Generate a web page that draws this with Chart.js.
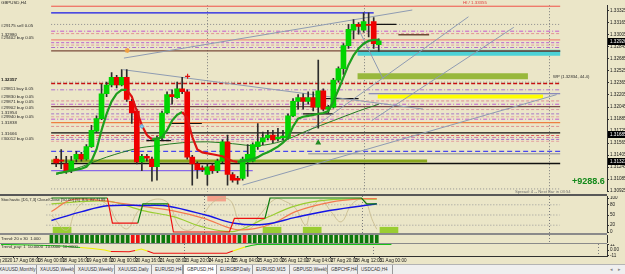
<!DOCTYPE html>
<html>
<head>
<meta charset="utf-8">
<title>GBPUSD,H4</title>
<script src="https://cdn.jsdelivr.net/npm/chart.js@4.4.1/dist/chart.umd.min.js"></script>
<style>
  html, body { margin: 0; padding: 0; }
  body { width: 625px; height: 274px; overflow: hidden; position: relative; background: #ebe6c8; font-family: "Liberation Sans", Arial, sans-serif; }
  canvas { position: absolute; left: 0; }
  .sep { position: absolute; left: 0; width: 607px; }
  #tabs { position: absolute; left: 0; top: 264px; width: 625px; height: 10px; background: #efefef; border-top: 1px solid #b4b4b4; }
  .tab { position: absolute; top: 0; height: 9px; line-height: 9px; font-size: 4.6px; color: #333; border-right: 1px solid #9a9a9a; padding-left: 3px; box-sizing: border-box; white-space: nowrap; overflow: hidden; }
  .tab.on { background: #fff; border-left: 1px solid #9a9a9a; }
  .arr { position: absolute; top: 1px; font-size: 5px; color: #888; }
</style>
</head>
<body>
<canvas id="main" width="625" height="197" style="top:0"></canvas>
<div class="sep" style="top:194px;height:2px;background:#585858"></div>
<canvas id="osc" width="625" height="37" style="top:196px"></canvas>
<div class="sep" style="top:233px;height:2px;background:#8a8a8a"></div>
<canvas id="hist" width="625" height="8" style="top:235px"></canvas>
<div class="sep" style="top:243px;height:1px;background:#8a8a8a"></div>
<canvas id="pay" width="625" height="21" style="top:244px"></canvas>
<div id="tabs"></div>
<script>
// GBPUSD H4, 17 Aug - 31 Aug 2020, bar index 0 = Mon 17 Aug 00:00
const candleOpen  = [1.31352,1.31339,1.31288,1.31198,1.31352,1.31416,1.31352,1.31518,1.31723,1.3189,
                     1.32222,1.32338,1.3244,1.32338,1.3244,1.3212,1.31992,1.31314,1.3139,1.31352,
                     1.3125,1.31634,1.31966,1.3221,1.32171,1.32286,1.32248,1.31378,1.31288,1.31237,
                     1.31147,1.31262,1.31198,1.31326,1.31582,1.31147,1.31096,1.31096,1.31314,1.31326,
                     1.31518,1.31582,1.31634,1.31672,1.31621,1.31634,1.31634,1.31928,1.3212,1.32171,
                     1.3212,1.32171,1.32043,1.32261,1.32018,1.32043,1.32402,1.32555,1.32862,1.33067,
                     1.33144,1.33067,1.33144,1.33182,1.32875];
const candleHigh  = [1.3139,1.3148,1.3139,1.3139,1.31454,1.31442,1.31544,1.318,1.31928,1.3235,
                     1.32376,1.32504,1.32466,1.32542,1.32542,1.32146,1.32018,1.31416,1.31416,1.31378,
                     1.31659,1.31992,1.32248,1.32274,1.32376,1.3244,1.32274,1.31403,1.31314,1.31262,
                     1.31288,1.31288,1.31352,1.31608,1.31672,1.31173,1.31122,1.31378,1.31544,1.3157,
                     1.31826,1.3171,1.31736,1.31736,1.31762,1.31736,1.31954,1.32158,1.3221,1.32222,
                     1.32248,1.32248,1.3267,1.32286,1.32069,1.32427,1.32581,1.32888,1.33144,1.33208,
                     1.3317,1.33298,1.33298,1.33234,1.32952];
const candleLow   = [1.3125,1.31224,1.3116,1.31173,1.31314,1.31326,1.31339,1.31506,1.3171,1.31877,
                     1.32184,1.32312,1.32299,1.32325,1.3212,1.31826,1.31288,1.31198,1.31326,1.31058,
                     1.3107,1.31608,1.31954,1.32082,1.32158,1.32222,1.31352,1.31006,1.31096,1.31186,
                     1.31006,1.3116,1.31173,1.31301,1.31006,1.31045,1.31019,1.3107,1.31122,1.31314,
                     1.3148,1.31544,1.31608,1.3157,1.31595,1.31608,1.31621,1.31915,1.32018,1.32018,
                     1.32082,1.31992,1.31762,1.31992,1.31966,1.3203,1.32376,1.32478,1.32824,1.32952,
                     1.33016,1.33042,1.32978,1.32824,1.32786];
const candleClose = [1.31301,1.31326,1.31198,1.31326,1.31416,1.31352,1.31518,1.31736,1.3189,1.32222,
                     1.32338,1.3244,1.32338,1.3244,1.32146,1.31966,1.31314,1.3139,1.31365,1.3125,
                     1.31634,1.31966,1.3221,1.32184,1.32286,1.32248,1.31378,1.31288,1.31211,1.31211,
                     1.3125,1.31198,1.31326,1.31582,1.31147,1.3107,1.3107,1.31352,1.31416,1.31544,
                     1.31582,1.31634,1.31672,1.31608,1.31646,1.31659,1.31928,1.3212,1.32171,1.3212,
                     1.32171,1.32043,1.32261,1.32018,1.32043,1.32402,1.32555,1.32862,1.3308,1.33144,
                     1.33118,1.33182,1.33131,1.32888,1.32926];

// fast moving average (green rising / red falling)
const maFast = [1.3116,1.31173,1.31186,1.31198,1.31211,1.31224,1.3125,1.31326,1.3148,1.31736,
                1.31954,1.3212,1.32222,1.32274,1.32274,1.32184,1.31992,1.318,1.31672,1.31614,
                1.31621,1.31646,1.31736,1.31864,1.31941,1.31979,1.31902,1.31646,1.3148,1.31442,
                1.31429,1.31416,1.31403,1.3139,1.31352,1.31326,1.31314,1.31326,1.31339,1.31352,
                1.31378,1.31416,1.31442,1.3148,1.31518,1.3157,1.31634,1.31787,1.3189,1.31915,
                1.31928,1.31941,1.31954,1.31966,1.31992,1.3212,1.32274,1.3244,1.32606,1.32734,
                1.32824,1.32888,1.32926,1.32939,1.32939];
// slow moving average, read at a few bars
const maSlowIdx = [0,5,10,16,20,25,30,35,40,45,50,55,60,64];
const maSlow    = [1.31147,1.3125,1.31378,1.31493,1.31531,1.3157,1.31582,1.31557,1.31531,1.31595,1.31736,1.31864,1.31992,1.32082];

// horizontal objects: price, first bar, last bar
const levelPrice = [1.33387,1.33298,1.33144,1.33054,1.33022,1.32939,1.32901,1.32869,1.32837,1.32792,
                    1.32376,1.32357,1.32274,1.32222,1.32126,1.32082,1.3205,1.32011,1.31954,1.31915,
                    1.31883,1.31838,1.31787,1.317,1.31666,1.3164,1.31614,1.31589,1.31454,1.31422,
                    1.31326,1.31294,1.31198,1.30955,1.32786];
const levelFrom  = [-1,-1,-1,-1,-1,-1,-1,-1,-1,-1,-1,-1,-1,62,-1,-1,-1,-1,-1,-1,
                    -1,-1,-1,-1,-1,-1,-1,-1,-1,50,-1,-1,-1,-1,59.8];
const levelTo    = [100,63,100,100,100,100,100,100,100,100,100,100,100,100,100,100,100,100,100,100,
                    100,100,100,100,100,100,100,100,100,100,73.6,100,39,100,100];
const levelLook  = [['#ef7b6b',1.5,[]],['#1818e8',1.2,[]],['#8c8c8c',1,[1,2]],['#c45ad0',1,[4,2,1,2]],['#e39494',1,[3,2]],
                    ['#f08a7a',1.2,[]],['#c060d0',1,[3,2]],['#e2a0a0',1,[3,2]],['#b070c8',1,[4,2,1,2]],['#7a4a3a',1.2,[]],
                    ['#8c8c8c',1,[1,2]],['#c81010',1.5,[4,2]],['#b070d0',1,[4,2,1,2]],['#7070b8',1,[]],['#e08898',1,[3,2]],
                    ['#c060d0',1,[4,2,1,2]],['#7a4848',1.2,[]],['#d898a8',1,[3,2]],['#a878c8',1,[3,2]],['#e2a2a2',1,[3,2]],
                    ['#c060d0',1,[4,2,1,2]],['#ee8040',1.3,[]],['#e09090',1,[3,2]],['#101010',1.3,[]],['#e06060',1,[3,2]],
                    ['#d080a8',1,[4,2,1,2]],['#a070d0',1,[3,2]],['#e2a0a0',1,[3,2]],['#4848f0',1.2,[5,3]],['#a8a8a8',1.5,[]],
                    ['#8aa81e',3,[]],['#101010',1.5,[]],['#8868e8',1.2,[]],['#909090',1,[1,2]],['#2e6e70',1.2,[]]];

// zones
const bandPrice = [1.32766,1.32453,1.32184];
const bandFrom  = [59.8,59.8,63.8];
const bandTo    = [100,93.6,96.6];
const bandLook  = [['#4cd2d6',6],['#98b83c',6],['#ffff00',4]];

// short segments
const segPrice = [1.32158,1.31954,1.33144,1.33007,1.31826,1.31599];
const segFrom  = [47.9,49,63,67.9,22.8,17.9];
const segTo    = [60,55,67.5,74,28.9,22.8];

// trend lines
const trendFromIdx = [13.44,13.28,49,62.6,37,60];
const trendFromPx  = [1.32696,1.32542,1.31672,1.31864,1.31006,1.3308];
const trendToIdx   = [70.66,72.79,81.8,90.8,99.3,64.9];
const trendToPx    = [1.33336,1.32018,1.33246,1.33106,1.3221,1.32414];

// arrows / signs
const markIdx   = [26.07,14.1,52,17];
const markPrice = [1.32453,1.32798,1.3157,1.31787];

const priceTicks = [1.33325,1.33165,1.33005,1.32845,1.32685,1.32525,1.32365,1.32205,1.32045,1.31885,1.31725,1.31565,1.31405,1.31245,1.31085,1.30925];
const axisMarks = [1.32926,1.31685,1.31323];
const separatorIdx = [30,61,97.87];

// oscillator window (0..100)
const oscBlueIdx = [0,6,11,18,23,30.5,36,42,48,55,64];
const oscBlue    = [34,60,77,78,76,49,26,23,43,64,83];
const oscOrangeIdx = [0,4,10,18,24,30,36,40,44,48,55,61,64];
const oscOrange    = [60,95,92,75,62,40,8,10,28,60,88,98,98];
const oscLimeIdx = [0,11,18,24,30,36,42,48,55,64];
const oscLime    = [83,91,63,45,14,2,40,77,95,97];
const oscTanIdx = [0,3,5,8,11,13,15,17,20,23,25,27,29,32,35,37,39,41,44,46,48,50,51,53,55,57,59,61,62,63,64];
const oscTan    = [50,5,70,95,80,30,10,60,95,85,20,5,30,90,95,30,10,50,97,90,70,20,60,95,60,30,80,98,85,40,8];
const stepGreenIdx = [0,11,11.5,17,18,23,23.5,42,43,61,62,64];
const stepGreen    = [100,100,null,26,83,83,null,40,100,100,83,83];
const stepRedIdx = [11,12,17,17.5,23,24,35,36,42];
const stepRed    = [100,26,26,null,83,0,0,40,40];
const oscLevels = [80,50,20];
const buyBoxIdx = [2.1,43.4,51.3,66.4];
const sellBoxIdx = [32.5];

// trend histogram: +1 up / -1 down per bar
const trendSignal = [1,1,1,1,1,1,1,1,1,1,1,1,1,1,1,1,-1,-1,1,1,1,1,1,1,-1,-1,-1,-1,-1,-1,-1,-1,-1,-1,-1,-1,-1,1,-1,
                     1,1,1,1,1,1,1,1,1,1,1,1,1,1,1,1,1,1,1,1,1,1,1,1,1,1];

// bottom line window
const payIdx = [0,5,10,13,15,17,18,21,22,23,24,25,37,38,39,40,41,42,64];
const payVal = [11,10,8,5,3,0,-3,-3.5,-1,2,-2,-6.5,-6.5,-2,2,6,9,11,11];

// time axis
const timeIdx  = [-2.4,2,6,10,14,18,22,26,30,34,38,42,46,50,54,58,62];
const timeText = ['17 Aug 2020','17 Aug 08:00','18 Aug 00:00','18 Aug 16:00','19 Aug 08:00','20 Aug 00:00','20 Aug 16:00','21 Aug 08:00',
                  '23 Aug 20:00','24 Aug 12:00','25 Aug 04:00','25 Aug 20:00','26 Aug 12:00','27 Aug 04:00','27 Aug 20:00','28 Aug 12:00','31 Aug 00:00'];

const tabNames = ['XAUUSD,Monthly','XAUUSD,Weekly','XAUUSD,Weekly','XAUUSD,Daily','EURUSD,H4','GBPUSD,H4','EURGBP,Daily','EURUSD,M15','GBPUSD,Weekly','GBPCHF,H4','USDCAD,H4'];
const tabEdges = [-4,37,75,115,152,183,217,253,290,328,358,393];

// ---------------------------------------------------------------
Chart.defaults.animation = false;
Chart.defaults.responsive = false;
Chart.defaults.font.family = '"Liberation Sans", Arial, sans-serif';
Chart.defaults.plugins.legend.display = false;
Chart.defaults.plugins.tooltip.enabled = false;
Chart.defaults.elements.point.radius = 0;

const FONT = '"Liberation Sans", Arial, sans-serif';
const X_MIN = -0.164, X_MAX = 99.34;
const pts = (xs, ys) => xs.map((x, i) => ({ x, y: ys[i] }));

function xAxis(show) {
  return { type: 'linear', min: X_MIN, max: X_MAX, display: show, bounds: 'data' };
}
function rightAxis(min, max, tickVals, fmt) {
  return {
    type: 'linear', position: 'right', min, max, bounds: 'data',
    afterBuildTicks: s => { s.ticks = tickVals.map(v => ({ value: v })); },
    afterFit: s => { s.width = 18; s.paddingTop = 0; s.paddingBottom = 0; },
    ticks: { callback: fmt, font: { size: 4.6 }, color: '#1a1a1a', padding: 1, autoSkip: false },
    grid: { drawOnChartArea: false, tickLength: 2, color: '#303030' },
    border: { display: true, color: '#303030', width: 1 },
  };
}
function hline(data, color, width, dash, order) {
  return { type: 'line', data, borderColor: color, borderWidth: width, borderDash: dash,
           borderCapStyle: 'butt', pointRadius: 0, order };
}

const separators = {
  id: 'separators',
  beforeDatasetsDraw(chart) {
    const { ctx, chartArea: a, scales: { x } } = chart;
    ctx.save();
    ctx.strokeStyle = '#7c7c7c'; ctx.lineWidth = 1; ctx.setLineDash([1, 2]);
    separatorIdx.forEach(v => {
      const px = Math.round(x.getPixelForValue(v)) + 0.5;
      ctx.beginPath(); ctx.moveTo(px, a.top); ctx.lineTo(px, a.bottom); ctx.stroke();
    });
    ctx.restore();
  }
};
function notes(list) {
  return {
    id: 'notes',
    afterDraw(chart) {
      const ctx = chart.ctx;
      ctx.save();
      ctx.textBaseline = 'middle';
      list.forEach(n => {
        ctx.font = n.font || ('4.4px ' + FONT);
        ctx.fillStyle = n.color || '#2a2a2a';
        ctx.fillText(n.text, n.x, n.y);
      });
      ctx.restore();
    }
  };
}

// ---------------- main price window ----------------
const mainSets = [];
mainSets.push({ type: 'line', data: pts(markIdx, markPrice), showLine: false, order: 1,
  pointStyle: ['cross', 'star', 'triangle', 'rectRot'], pointRadius: [2.5, 2.5, 2.2, 1.8], pointBorderWidth: 1.2,
  pointBorderColor: ['#e01010', '#f0a040', '#208a20', '#6ab0e0'], pointBackgroundColor: ['#e01010', '#f0a040', '#208a20', '#9ad0f0'] });
mainSets.push({ type: 'line', data: maFast.map((v, i) => ({ x: i, y: v })), borderWidth: 2.2, order: 5,
  borderColor: '#1e9e1e', segment: { borderColor: c => c.p1.parsed.y < c.p0.parsed.y ? '#dd1111' : '#1e9e1e' } });
mainSets.push({ type: 'bar', data: candleOpen.map((o, i) => ({ x: i, y: [o, candleClose[i]] })), order: 10,
  barThickness: 5, grouped: false, minBarLength: 1,
  backgroundColor: c => candleClose[c.dataIndex] >= candleOpen[c.dataIndex] ? '#00d400' : '#ee0000' });
mainSets.push({ type: 'bar', data: candleLow.map((l, i) => ({ x: i, y: [l, candleHigh[i]] })), order: 20,
  barThickness: 1, grouped: false, backgroundColor: '#2c2c2c' });
mainSets.push({ type: 'line', data: pts(maSlowIdx, maSlow), borderColor: '#237a23', borderWidth: 1, tension: 0.35, order: 30 });
trendFromIdx.forEach((x0, k) => mainSets.push(hline([{ x: x0, y: trendFromPx[k] }, { x: trendToIdx[k], y: trendToPx[k] }], '#8e9bb2', 1, [], 40)));
segPrice.forEach((p, k) => mainSets.push(hline([{ x: segFrom[k], y: p }, { x: segTo[k], y: p }], k === 3 ? '#6e4a38' : '#141414', k === 3 ? 1.5 : 1.2, [], 45)));
levelPrice.forEach((p, k) => mainSets.push(hline([{ x: levelFrom[k], y: p }, { x: levelTo[k], y: p }], levelLook[k][0], levelLook[k][1], levelLook[k][2], 50)));
bandPrice.forEach((p, k) => mainSets.push(hline([{ x: bandFrom[k], y: p }, { x: bandTo[k], y: p }], bandLook[k][0], bandLook[k][1], [], 60)));

const priceBoxes = {
  id: 'priceBoxes',
  afterDraw(chart) {
    const { ctx, chartArea: a, scales: { y } } = chart;
    ctx.save();
    ctx.textBaseline = 'middle';
    ctx.font = '4.6px ' + FONT;
    axisMarks.forEach(p => {
      const py = Math.round(y.getPixelForValue(p));
      ctx.fillStyle = '#000'; ctx.fillRect(a.right + 1, py - 3, 18, 7);
      ctx.fillStyle = '#fff'; ctx.fillText(p.toFixed(5), a.right + 3, py + 0.5);
    });
    ctx.restore();
  }
};

new Chart(document.getElementById('main'), {
  type: 'bar',
  data: { datasets: mainSets },
  options: {
    layout: { padding: { top: 0, bottom: 3, left: 0, right: 0 } },
    scales: { x: xAxis(false), y: rightAxis(1.309168, 1.334, priceTicks, v => v.toFixed(5)) },
  },
  plugins: [separators, priceBoxes, notes([
    { text: 'GBPUSD,H4', x: 1, y: 3 },
    { text: 'HI / 1.33355', x: 463, y: 3, color: '#e03a3a' },
    { text: '#29175 sell 0.05', x: 1, y: 26 },
    { text: '#29402 buy 0.05', x: 1, y: 38 },
    { text: '1.32980', x: 1, y: 35 },
    { text: '1.32357', x: 1, y: 80, font: 'bold 4.4px ' + FONT, color: '#111' },
    { text: '#29811 buy 0.05', x: 1, y: 89 },
    { text: '#29830 buy 0.05', x: 1, y: 97 },
    { text: '#29871 buy 0.05', x: 1, y: 102 },
    { text: '#29902 buy 0.05', x: 1, y: 108 },
    { text: '1.31954', x: 1, y: 113 },
    { text: '#29940 buy 0.05', x: 1, y: 117 },
    { text: '1.31838', x: 1, y: 123 },
    { text: '1.31666', x: 1, y: 134 },
    { text: '#30012 buy 0.05', x: 1, y: 139 },
    { text: 'WP (1.32834, 44.4)', x: 553, y: 77, font: '4.2px ' + FONT },
    { text: '+9288.6', x: 572, y: 182, font: 'bold 9px "Liberation Sans Narrow", "Liberation Sans", Arial', color: '#13891a' },
    { text: 'Spread: 4 -- Next Bar in 03:54', x: 515, y: 192, font: '4.2px ' + FONT, color: '#6e6e6e' },
  ])],
});

// ---------------- oscillator window ----------------
const oscSets = [
  { type: 'line', data: pts(stepGreenIdx, stepGreen), borderColor: '#0a7a0a', borderWidth: 1.2, spanGaps: false, order: 1 },
  { type: 'line', data: pts(stepRedIdx, stepRed), borderColor: '#ee1010', borderWidth: 1.2, spanGaps: false, order: 1 },
  { type: 'line', data: pts(oscBlueIdx, oscBlue), borderColor: '#1414e6', borderWidth: 1.5, tension: 0.35, order: 2 },
  { type: 'line', data: pts(oscOrangeIdx, oscOrange), borderColor: '#f47a50', borderWidth: 1.2, tension: 0.35, order: 3 },
  { type: 'line', data: pts(oscLimeIdx, oscLime), borderColor: '#9acd32', borderWidth: 1.2, tension: 0.35, order: 3 },
  { type: 'line', data: pts(oscTanIdx, oscTan), borderColor: '#c6b98a', borderWidth: 0.8, tension: 0.4, order: 4 },
  { type: 'bar', data: buyBoxIdx.map(x => ({ x, y: [-3, 14] })), barThickness: 18, grouped: false, backgroundColor: '#9acd32', order: 6 },
  { type: 'bar', data: sellBoxIdx.map(x => ({ x, y: [91, 106] })), barThickness: 18, grouped: false, backgroundColor: '#f4a08a', order: 6 },
];
oscLevels.forEach(v => oscSets.push(hline([{ x: -1, y: v }, { x: 100, y: v }], '#9a9a9a', 1, [1, 2], 8)));

new Chart(document.getElementById('osc'), {
  type: 'bar',
  data: { datasets: oscSets },
  options: {
    layout: { padding: 0 },
    scales: { x: xAxis(false), y: rightAxis(-2.94, 105.9, [100, 80, 50, 20, 0], v => String(v)) },
  },
  plugins: [separators, notes([{ text: 'Stochastic [D1,7,3] Close/Close [50.00] [5]  8.5  87.7199', x: 1, y: 3.5, font: '4.2px ' + FONT }])],
});

// ---------------- trend histogram ----------------
new Chart(document.getElementById('hist'), {
  type: 'bar',
  data: { datasets: [{
    data: trendSignal.map((s, i) => ({ x: i, y: [0, 1] })), barThickness: 3, grouped: false,
    backgroundColor: c => trendSignal[c.dataIndex] > 0 ? '#0b780b' : '#ee1111',
  }] },
  options: {
    layout: { padding: 0 },
    scales: { x: xAxis(false), y: rightAxis(0, 1, [], () => '') },
  },
  plugins: [separators, notes([{ text: 'Trend: 20 x 30  1.000', x: 1, y: 4, font: '4.2px ' + FONT }])],
});

// ---------------- bottom line window + time axis ----------------
const payColor = v => v >= 5 ? '#17c017' : (v >= -2 ? '#f0f000' : '#ee1010');
new Chart(document.getElementById('pay'), {
  type: 'line',
  data: { datasets: [{
    data: pts(payIdx, payVal), borderWidth: 1.2, borderColor: '#17c017',
    segment: { borderColor: c => payColor((c.p0.parsed.y + c.p1.parsed.y) / 2) },
  }] },
  options: {
    layout: { padding: 0 },
    scales: {
      x: {
        type: 'linear', min: X_MIN, max: X_MAX, position: 'bottom', bounds: 'data',
        afterBuildTicks: s => { s.ticks = timeIdx.map(v => ({ value: v })); },
        afterFit: s => { s.height = 9; s.paddingLeft = 0; s.paddingRight = 0; },
        ticks: { callback: (v, i) => timeText[i], align: 'start', autoSkip: false, maxRotation: 0,
                 font: { size: 4.6 }, color: '#1a1a1a', padding: 0 },
        grid: { drawOnChartArea: false, tickLength: 2, color: '#303030' },
        border: { display: true, color: '#303030', width: 1 },
      },
      y: rightAxis(-12, 12, [11, 0, -11], v => v === 0 ? '0.00' : String(v)),
    },
  },
  plugins: [separators, notes([{ text: 'Trend_pay: 1  10.0000  10.0000  10.0000', x: 1, y: 3, font: '4.2px ' + FONT }])],
});

// ---------------- tab bar ----------------
const tabs = document.getElementById('tabs');
tabNames.forEach((name, k) => {
  const d = document.createElement('div');
  d.className = 'tab' + (name === 'GBPUSD,H4' ? ' on' : '');
  d.style.left = tabEdges[k] + 'px';
  d.style.width = (tabEdges[k + 1] - tabEdges[k]) + 'px';
  d.textContent = name;
  tabs.appendChild(d);
});
['\u25C2', '\u25B8'].forEach((a, k) => {
  const s = document.createElement('span');
  s.className = 'arr'; s.style.left = (610 + k * 8) + 'px'; s.textContent = a;
  tabs.appendChild(s);
});
</script>
</body>
</html>
